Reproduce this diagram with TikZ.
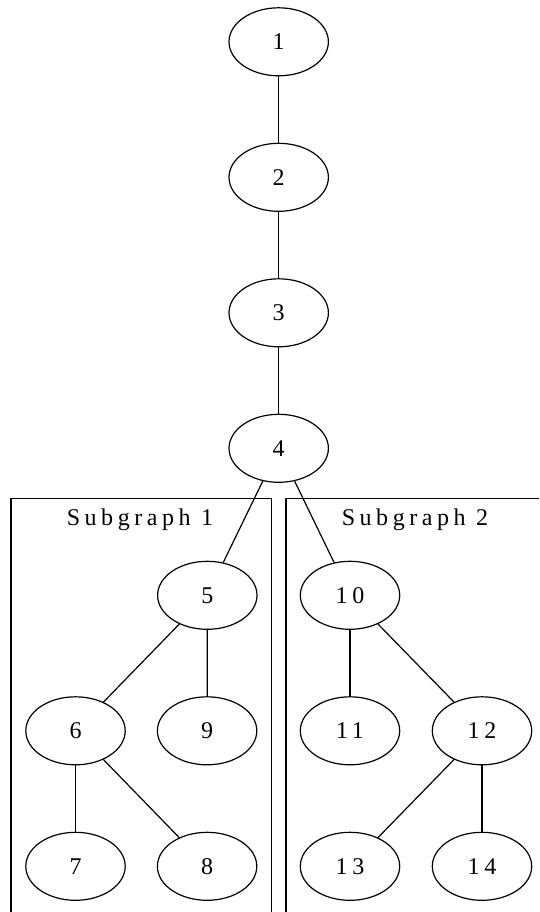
\documentclass[tikz,border=0pt]{standalone}
\usepackage{fontspec}
\setmainfont{Liberation Serif}[LetterSpace=19]
\usetikzlibrary{shapes.geometric}
\tikzset{
  vert/.style={draw, ellipse, line width=1.2pt, minimum width=99.4pt, minimum height=68pt, inner sep=0pt, font=\fontsize{24}{28}\selectfont},
  edge/.style={line width=1.2pt},
  cluster/.style={draw, line width=1.2pt},
  ctitle/.style={font=\fontsize{24}{28}\selectfont, inner sep=0pt, anchor=base}
}
\begin{document}
\begin{tikzpicture}[x=1pt, y=-1pt]
\useasboundingbox (0,0) rectangle (539,912);
\clip (0,0) rectangle (539,912);
\draw[cluster] (11,498.3) -- (11,940) -- (271.7,940) -- (271.7,498.3) -- cycle;
\draw[cluster] (286,498.3) -- (286,940) -- (560,940) -- (560,498.3) -- cycle;
\node[ctitle] (t1) at (140,525.7) {Subgraph 1};
\node[ctitle] (t2) at (415,525.7) {Subgraph 2};
\node[vert] (n1) at (278.7,41.8) {1};
\node[vert] (n2) at (278.7,177.3) {2};
\node[vert] (n3) at (278.7,312.8) {3};
\node[vert] (n4) at (278.7,448.3) {4};
\node[vert] (n5) at (207.3,595.3) {5};
\node[vert] (n10) at (350,595.3) {10};
\node[vert] (n6) at (75.5,730.8) {6};
\node[vert] (n9) at (207.1,730.8) {9};
\node[vert] (n11) at (350,730.8) {11};
\node[vert] (n12) at (482,730.8) {12};
\node[vert] (n7) at (75.5,866.3) {7};
\node[vert] (n8) at (207.1,866.3) {8};
\node[vert] (n13) at (350,866.3) {13};
\node[vert] (n14) at (482,866.3) {14};
\draw[edge] (n1) -- (n2);
\draw[edge] (n2) -- (n3);
\draw[edge] (n3) -- (n4);
\draw[edge] (n4) -- (n5);
\draw[edge] (n4) -- (n10);
\draw[edge] (n5) -- (n6);
\draw[edge] (n5) -- (n9);
\draw[edge] (n6) -- (n7);
\draw[edge] (n6) -- (n8);
\draw[edge] (n10) -- (n11);
\draw[edge] (n10) -- (n12);
\draw[edge] (n12) -- (n13);
\draw[edge] (n12) -- (n14);
\end{tikzpicture}
\end{document}
